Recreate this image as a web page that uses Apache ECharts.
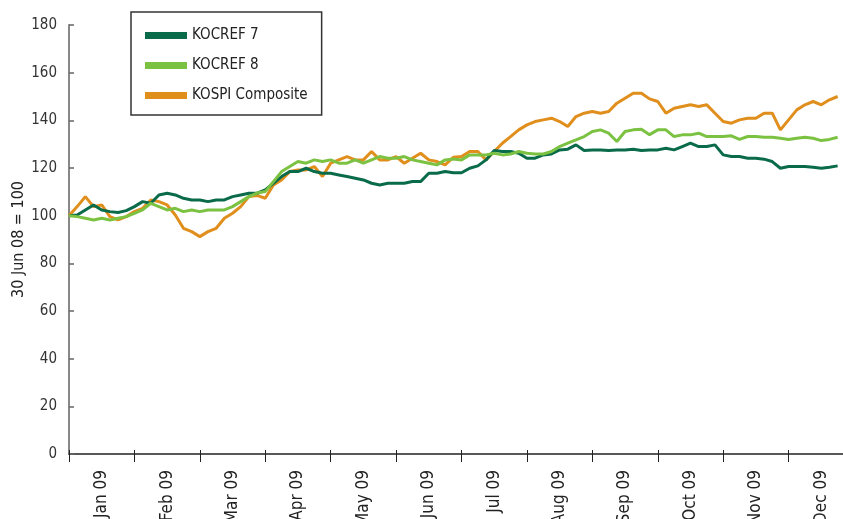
<!DOCTYPE html>
<html><head><meta charset="utf-8">
<script src="https://cdn.jsdelivr.net/npm/echarts@6/dist/echarts.min.js"></script>
<style>html,body{margin:0;padding:0;background:#fff}#c{width:843px;height:519px}</style>
</head><body><div id="c"></div>
<script>
// Month labels on the x axis
const months = ['Jan 09','Feb 09','Mar 09','Apr 09','May 09','Jun 09','Jul 09','Aug 09','Sep 09','Oct 09','Nov 09','Dec 09'];
// Samples are read every 1/8 month from the start of Jan 09
const stepsPerMonth = 8;
const kocref7 = [100,100.3,102.4,104.5,102.4,101.7,101.3,102.1,103.8,105.9,105.2,108.7,109.4,108.7,107.3,106.6,106.6,105.9,106.6,106.6,108,108.7,109.4,109.4,
  110.8,113.6,116.4,118.5,118.5,119.9,118.5,117.8,117.8,117.1,116.4,115.7,115,113.6,112.9,113.6,113.6,113.6,114.3,114.3,117.8,117.8,118.5,118,
  118,119.9,120.9,123.4,127.3,126.9,126.9,126.2,124.1,124.1,125.5,125.9,127.6,127.9,129.7,127.3,127.6,127.6,127.3,127.6,127.6,127.9,127.3,127.6,
  127.6,128.3,127.6,129,130.4,129,129,129.7,125.5,124.8,124.8,124.1,124.1,123.7,122.7,119.9,120.6,120.6,120.6,120.3,119.9,120.3,120.9];
const kocref8 = [100,99.6,98.9,98.2,98.9,98.2,98.9,99.6,101,102.4,105.2,103.8,102.4,103.1,101.7,102.4,101.7,102.4,102.4,102.4,103.8,105.9,108,109.5,
  110.1,114.3,118.5,120.6,122.7,122,123.4,122.7,123.4,122,122,123.4,122,123.4,124.8,124.1,124.1,124.8,123.4,122.7,122,121.3,123.4,123.8,
  123.4,125.5,125.5,125.5,126.2,125.5,125.9,126.9,126.2,125.9,125.9,126.9,129,130.4,131.8,133.2,135.3,136,134.6,131.1,135.3,136,136.3,134,
  136,136,133.2,133.9,133.9,134.6,133.2,133.2,133.2,133.5,132,133.2,133.2,132.9,132.9,132.5,132,132.5,132.9,132.5,131.5,132,132.9];
const kospi = [100,103.8,108,103.8,104.5,99.6,98.2,99.6,101.7,103.1,106.6,105.9,104.5,100.3,94.7,93.3,91.2,93.3,94.7,98.9,101,103.8,108,108.5,
  107.3,112.9,115,118.5,119.2,119.2,120.6,116.4,122,123.4,124.8,123.4,123.4,126.9,123.4,123.4,124.8,122,124.1,126.2,123.4,122.7,121.3,124.5,
  124.8,126.9,126.9,123.4,126.9,130.4,133.2,136,138.1,139.5,140.2,140.9,139.5,137.4,141.6,143,143.7,143,143.7,147.2,149.3,151.4,151.4,149,
  147.9,143,145.1,145.8,146.5,145.8,146.5,143,139.5,138.8,140.2,140.9,140.9,143,143,136,140.2,144.4,146.5,147.9,146.5,148.6,150];
const seriesNames = ['KOCREF 7','KOCREF 8','KOSPI Composite'];
const seriesColors = ['#0a6b4b','#7cc242','#e08e1c'];

const FONT = "'DejaVu Sans Condensed','Liberation Sans Narrow',sans-serif";
const chart = echarts.init(document.getElementById('c'), null, {renderer:'canvas'});
const toPairs = arr => arr.map((v,i)=>[i, v]);
const mk = (name, data, color, z) => ({
  name, type:'line', xAxisIndex:1, data: toPairs(data), showSymbol:false, symbol:'none',
  lineStyle:{color, width:3}, itemStyle:{color}, z, animation:false
});
chart.setOption({
  animation:false,
  backgroundColor:'#fff',
  grid:{left:69, top:25, bottom:65, right:-11, containLabel:false, outerBoundsMode:'none'},
  legend:{
    orient:'vertical', left:131, top:12, icon:'rect', itemWidth:42, itemHeight:7, itemGap:15,
    padding:[16,14,12,14], borderColor:'#333', borderWidth:1.5, backgroundColor:'#fff',
    textStyle:{fontFamily:FONT, fontSize:15, color:'#222'},
    data: seriesNames
  },
  xAxis:[
    {type:'category', data:months, boundaryGap:true,
     axisLine:{lineStyle:{color:'#222', width:1.5}},
     axisTick:{show:true, length:8, lineStyle:{color:'#222', width:1}},
     axisLabel:{rotate:90, margin:16, fontFamily:FONT, fontSize:17, color:'#222'},
     splitLine:{show:false}},
    {type:'value', min:0, max:12*stepsPerMonth, show:false},
    {type:'category', data:months, boundaryGap:true, position:'bottom',
     axisLine:{show:false}, axisLabel:{show:false},
     axisTick:{show:true, inside:true, length:4, lineStyle:{color:'#222', width:1}}}
  ],
  yAxis:{
    type:'value', min:0, max:180, interval:20,
    name:'30 Jun 08 = 100', nameLocation:'middle', nameGap:42, nameRotate:90, nameMoveOverlap:false,
    nameTextStyle:{fontFamily:FONT, fontSize:16, color:'#222'},
    axisLine:{show:true, lineStyle:{color:'#888', width:2}},
    axisTick:{show:true, inside:true, length:5, lineStyle:{color:'#666', width:1.5}},
    axisLabel:{margin:12, fontFamily:FONT, fontSize:15, color:'#333'},
    splitLine:{show:false}
  },
  series:[
    mk(seriesNames[0], kocref7, seriesColors[0], 2),
    mk(seriesNames[1], kocref8, seriesColors[1], 3),
    mk(seriesNames[2], kospi, seriesColors[2], 1)
  ]
});
</script></body></html>
